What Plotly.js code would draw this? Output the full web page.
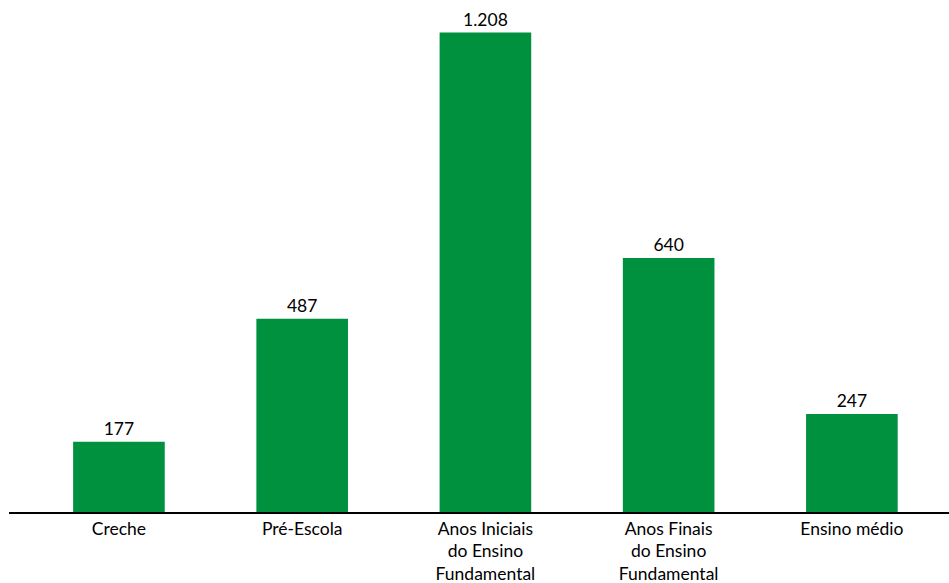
<!DOCTYPE html>
<html>
<head>
<meta charset="utf-8">
<script src="https://cdn.plot.ly/plotly-3.0.1.min.js"></script>
<style>html,body{margin:0;padding:0;background:#fff;}#chart{width:949px;height:583px;}</style>
</head>
<body>
<div id="chart"></div>
<script>
const categories = ["Creche", "Pré-Escola", "Anos Iniciais<br>do Ensino<br>Fundamental", "Anos Finais<br>do Ensino<br>Fundamental", "Ensino médio"];
const values = [177, 487, 1208, 640, 247];

const trace = {
  type: "bar",
  x: categories,
  y: values,
  marker: {color: "#00913F"},
  width: 0.5,
  texttemplate: "%{y:,d}",
  textposition: "outside",
  cliponaxis: false,
  textfont: {family: "Lato, 'Open Sans', sans-serif", size: 17.5, color: "#000"},
  hoverinfo: "none"
};

const layout = {
  width: 949, height: 583,
  margin: {l: 9, r: 0, t: 10, b: 70.5},
  paper_bgcolor: "#fff", plot_bgcolor: "#fff",
  separators: ",.",
  showlegend: false,
  font: {family: "Lato, 'Open Sans', sans-serif", size: 17.5, color: "#000"},
  xaxis: {
    type: "category",
    range: [-0.6, 4.53],
    showline: true, linecolor: "#000", linewidth: 1.5,
    ticks: "", showgrid: false, zeroline: false,
    tickfont: {family: "Lato, 'Open Sans', sans-serif", size: 17.5, color: "#000"}
  },
  yaxis: {
    range: [0, 1265],
    visible: false, showgrid: false, zeroline: false
  }
};

Plotly.newPlot("chart", [trace], layout, {staticPlot: true, displayModeBar: false});
</script>
</body>
</html>
